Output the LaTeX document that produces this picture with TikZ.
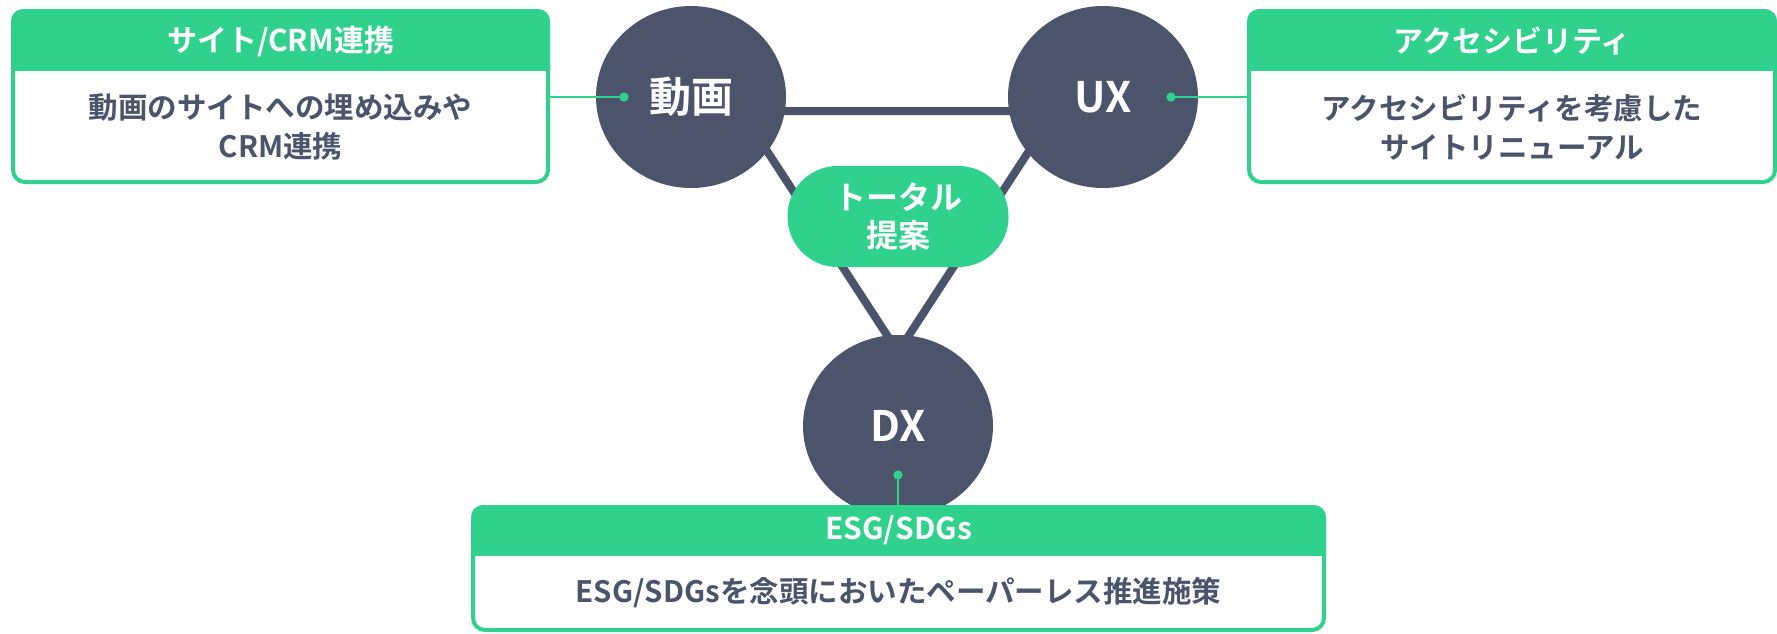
\documentclass[tikz,border=0pt]{standalone}
\usepackage{fontspec}
\setmainfont{Noto Sans CJK JP}[BoldFont={Noto Sans CJK JP Bold}]
\usetikzlibrary{shapes.geometric}
\definecolor{grn}{RGB}{47,209,141}
\definecolor{slate}{RGB}{75,84,106}
\tikzset{
  hub/.style={ellipse, fill=slate, minimum width=190pt, minimum height=182pt, inner sep=0pt,
    text=white, font=\fontsize{42}{48}\selectfont\bfseries},
  frame/.style={rectangle, draw=grn, line width=4pt, fill=white, rounded corners=12pt, inner sep=0pt},
  headtxt/.style={text=white, font=\fontsize{30}{34}\selectfont\bfseries},
  bodytxt/.style={text=slate, align=center, font=\fontsize{29.5}{39}\selectfont\bfseries},
  dotmark/.style={circle, fill=grn, inner sep=0pt, minimum size=9pt},
  link/.style={draw=grn, line width=2pt},
  tri/.style={draw=slate, line width=8pt},
  pill/.style={rectangle, fill=grn, rounded corners=50pt, minimum width=221pt, minimum height=101pt,
    inner sep=0pt, text=white, align=center, font=\fontsize{32}{38}\selectfont\bfseries}
}
\begin{document}
\begin{tikzpicture}[x=1pt,y=-1pt]
\useasboundingbox (0,0) rectangle (1777,633);

% left box
\node[frame, minimum width=535pt, minimum height=171pt] (lbox) at (280.5,96.5) {};
\begin{scope}
  \clip (10,8) rectangle (551,70);
  \fill[grn, rounded corners=12pt] (lbox.north west) rectangle (lbox.south east);
\end{scope}
\node[headtxt] (lhead) at (280.5,41) {サイト/CRM連携};
\node[bodytxt] (lbody) at (280.5,127) {動画のサイトへの埋め込みや\\CRM連携};

% right box
\node[frame, minimum width=526pt, minimum height=171pt] (rbox) at (1512,96.5) {};
\begin{scope}
  \clip (1246,8) rectangle (1780,70);
  \fill[grn, rounded corners=12pt] (rbox.north west) rectangle (rbox.south east);
\end{scope}
\node[headtxt] (rhead) at (1512,41) {アクセシビリティ};
\node[bodytxt] (rbody) at (1512,127) {アクセシビリティを考慮した\\サイトリニューアル};

% triangle behind the hubs
\coordinate (ta) at (741,111);
\coordinate (tb) at (1055,111);
\coordinate (tc) at (898,352);
\draw[tri] (ta) -- (tb) -- (tc) -- cycle;

% hubs
\node[hub] (mov) at (691,97) {動画};
\node[hub] (ux) at (1103,97) {UX};
\node[hub] (dx) at (898,426) {DX};

% centre pill
\node[pill] (total) at (898,216.5) {トータル\\提案};

% bottom box
\node[frame, minimum width=851pt, minimum height=123pt] (bbox) at (898.5,568.5) {};
\begin{scope}
  \clip (470,504) rectangle (1328,555);
  \fill[grn, rounded corners=12pt] (bbox.north west) rectangle (bbox.south east);
\end{scope}
\node[headtxt] (bhead) at (898.5,530) {ESG/SDGs};
\node[bodytxt] (bbody) at (898.5,593) {ESG/SDGsを念頭においたペーパーレス推進施策};

% dots and links
\node[dotmark] (movdot) at (624,97) {};
\node[dotmark] (uxdot) at (1171,97) {};
\node[dotmark] (dxdot) at (898,475) {};
\draw[link] (movdot.center) -- (lbox.east |- movdot.center);
\draw[link] (uxdot.center) -- (rbox.west |- uxdot.center);
\draw[link] (dxdot.center) -- (bbox.north -| dxdot.center);
\node[dotmark] at (movdot) {};
\node[dotmark] at (uxdot) {};
\node[dotmark] at (dxdot) {};
\end{tikzpicture}
\end{document}
